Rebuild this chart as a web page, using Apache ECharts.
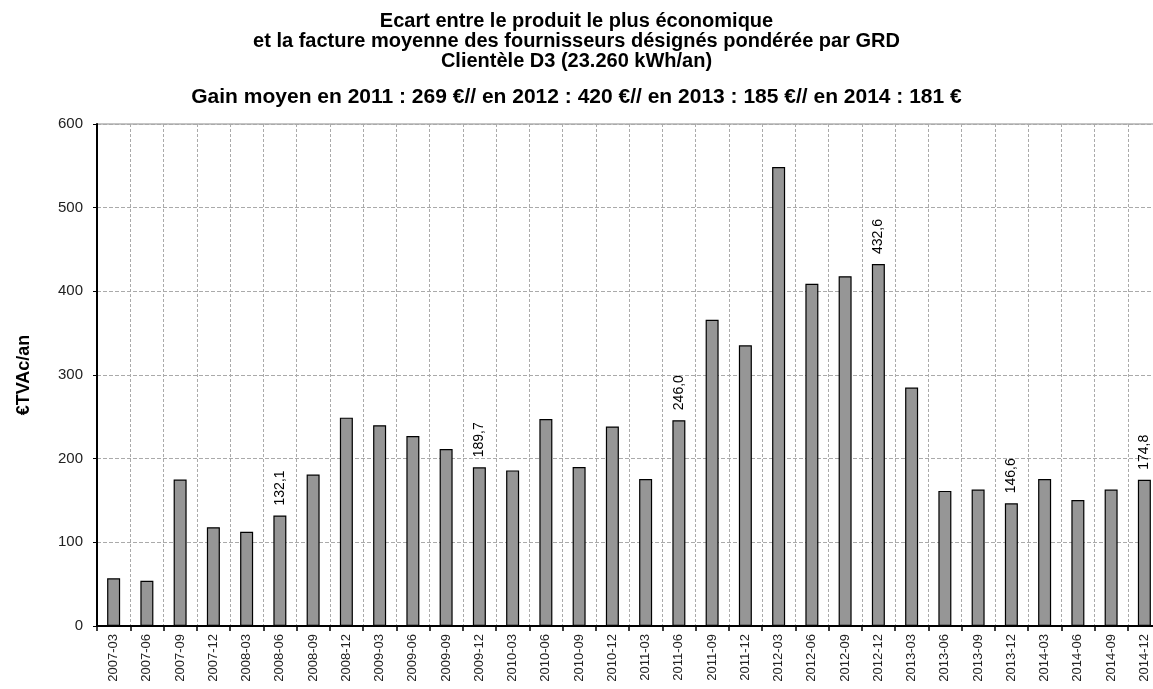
<!DOCTYPE html>
<html>
<head>
<meta charset="utf-8">
<script src="https://cdn.jsdelivr.net/npm/echarts@6/dist/echarts.min.js"></script>
<style>
  html, body { margin: 0; padding: 0; background: #fff; }
  #chart { width: 1153px; height: 689px; }
</style>
</head>
<body>
<div id="chart"></div>
<script>
// trimestres
const quarters = [
  '2007-03', '2007-06', '2007-09', '2007-12',
  '2008-03', '2008-06', '2008-09', '2008-12',
  '2009-03', '2009-06', '2009-09', '2009-12',
  '2010-03', '2010-06', '2010-09', '2010-12',
  '2011-03', '2011-06', '2011-09', '2011-12',
  '2012-03', '2012-06', '2012-09', '2012-12',
  '2013-03', '2013-06', '2013-09', '2013-12',
  '2014-03', '2014-06', '2014-09', '2014-12'
];
// écart en €TVAc/an
const ecart = [
  57, 54, 175, 118,
  112.6, 132.1, 181, 249,
  240, 227, 211.5, 189.7,
  186, 247.5, 190, 238.5,
  175.6, 246.0, 366, 335.5,
  548.6, 409, 418, 432.6,
  285, 161.5, 163, 146.6,
  175.6, 150.6, 163, 174.8
];
// barres avec étiquette
const labelled = ['2008-06', '2009-12', '2011-06', '2012-12', '2013-12', '2014-12'];

const yTicks = { min: 0, max: 600, interval: 100 };

const titleLines = [
  'Ecart entre le produit le plus économique',
  'et la facture moyenne des fournisseurs désignés pondérée par GRD',
  'Clientèle D3 (23.260 kWh/an)'
];
const subTitle = 'Gain moyen en 2011 : 269 €// en 2012 : 420 €// en 2013 : 185 €// en 2014 : 181 €';

const chart = echarts.init(document.getElementById('chart'));

const barData = ecart.map((v, i) => ({
  value: v,
  label: { show: labelled.includes(quarters[i]) }
}));

const option = {
  animation: false,
  textStyle: { fontFamily: 'Liberation Sans, Arial, sans-serif' },
  title: {
    text: titleLines.join('\n'),
    subtext: subTitle,
    left: 'center',
    top: 11,
    padding: 0,
    itemGap: 15,
    textStyle: {
      fontSize: 20,
      fontWeight: 'bold',
      color: '#000',
      lineHeight: 20
    },
    subtextStyle: {
      fontSize: 21,
      fontWeight: 'bold',
      color: '#000',
      lineHeight: 22
    }
  },
  grid: {
    left: 97,
    top: 124,
    right: -8,
    bottom: 63,
    outerBoundsMode: 'none',
    show: true,
    borderColor: '#888',
    borderWidth: 1,
    containLabel: false
  },
  xAxis: {
    type: 'category',
    data: quarters,
    axisLine: { lineStyle: { color: '#000', width: 2 } },
    axisTick: { show: true, length: 5, lineStyle: { color: '#000', width: 1.5 } },
    axisLabel: {
      rotate: 90,
      fontSize: 13,
      color: '#222',
      margin: 8
    },
    splitLine: {
      show: true,
      lineStyle: { color: '#aaa', type: [3, 2], width: 1 }
    }
  },
  yAxis: {
    type: 'value',
    min: yTicks.min,
    max: yTicks.max,
    interval: yTicks.interval,
    name: '€TVAc/an',
    nameLocation: 'middle',
    nameGap: 64,
    nameTextStyle: { fontSize: 18, fontWeight: 'bold', color: '#000' },
    axisLine: { show: true, lineStyle: { color: '#000', width: 2 } },
    axisTick: { show: true, length: 4, lineStyle: { color: '#000' } },
    axisLabel: { fontSize: 15, color: '#222', margin: 14 },
    splitLine: {
      show: true,
      lineStyle: { color: '#aaa', type: [4, 2], width: 1 }
    }
  },
  series: [{
    type: 'bar',
    data: barData,
    barWidth: 13,
    itemStyle: {
      color: '#969696',
      borderColor: '#000',
      borderWidth: 1.2
    },
    label: {
      show: false,
      position: 'top',
      rotate: 90,
      align: 'left',
      verticalAlign: 'middle',
      distance: 10,
      fontSize: 14,
      color: '#000',
      formatter: p => p.value.toFixed(1).replace('.', ',')
    }
  }]
};

chart.setOption(option);
</script>
</body>
</html>
